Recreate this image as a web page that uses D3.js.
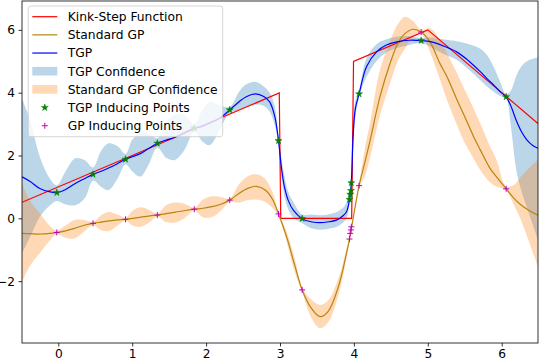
<!DOCTYPE html>
<html>
<head>
<meta charset="utf-8">
<script src="https://cdn.jsdelivr.net/npm/d3@7"></script>
<style>
  html, body { margin: 0; padding: 0; background: #fff; }
  svg text { font-family: "DejaVu Sans", sans-serif; }
</style>
</head>
<body>
<div id="chart"></div>
<script>
// kink-step ground truth (sampled, so the steps lean a little)
var stepX = [-0.49, 2.99, 3.01, 3.97, 3.995, 5.0, 6.49];
var stepY = [0.51, 3.99, 0.0, 0.0, 4.995, 6.0, 3.02];

// TGP posterior mean and confidence band
var tgpX = [-0.49, -0.38, -0.25, -0.11, -0.02, 0.10, 0.23, 0.36, 0.47, 0.58,
            0.68, 0.80, 0.91, 1.00, 1.11, 1.22, 1.34, 1.47, 1.58, 1.70,
            1.84, 1.95, 2.05, 2.18, 2.32, 2.45, 2.55, 2.67, 2.78, 2.86,
            2.93, 2.98, 3.02, 3.06, 3.11, 3.18, 3.30, 3.42, 3.54, 3.66,
            3.77, 3.86, 3.90, 3.94, 3.965, 3.99, 4.02, 4.07, 4.17, 4.31,
            4.44, 4.58, 4.75, 4.91, 5.05, 5.20, 5.39, 5.55, 5.71, 5.80,
            5.89, 5.97, 6.06, 6.12, 6.20, 6.27, 6.34, 6.42, 6.49];
var tgpMean = [1.32, 1.17, 0.95, 0.84, 0.82, 0.92, 1.11, 1.27, 1.40, 1.50,
               1.60, 1.74, 1.88, 1.96, 2.06, 2.22, 2.39, 2.50, 2.58, 2.72,
               2.87, 2.93, 3.03, 3.18, 3.45, 3.72, 3.88, 3.96, 3.88, 3.71,
               3.24, 2.47, 1.60, 1.00, 0.58, 0.26, -0.01, -0.11, -0.14, -0.11,
               -0.05, 0.10, 0.21, 0.58, 1.15, 2.65, 3.50, 3.96, 4.83, 5.31,
               5.52, 5.62, 5.67, 5.66, 5.62, 5.50, 5.30, 5.02, 4.67, 4.45,
               4.25, 4.05, 3.87, 3.60, 3.10, 2.75, 2.50, 2.32, 2.23];
var tgpLo = [-1.11, -0.59, 0.05, 0.42, 0.55, 0.44, 0.42, 0.65, 1.20, 1.00,
             0.90, 1.25, 1.72, 1.50, 1.33, 1.70, 2.25, 1.91, 1.86, 2.15,
             2.75, 2.45, 2.33, 2.80, 3.35, 3.45, 3.55, 3.62, 3.58, 3.40,
             2.95, 2.35, 1.30, 0.70, 0.30, 0.02, -0.15, -0.32, -0.36, -0.33,
             -0.27, -0.12, 0.00, 0.45, 1.00, 2.30, 3.20, 3.85, 4.50, 5.02,
             5.28, 5.42, 5.52, 5.58, 5.44, 5.25, 5.05, 4.75, 4.40, 4.20,
             4.03, 3.90, 3.80, 3.00, 1.50, 0.85, 0.35, -0.20, -0.69];
var tgpHi = [3.80, 3.13, 1.96, 1.25, 1.05, 1.50, 1.91, 1.85, 1.62, 2.15,
             2.39, 2.30, 2.05, 2.50, 2.72, 2.70, 2.55, 3.10, 3.30, 3.30,
             3.00, 3.45, 3.72, 3.60, 3.55, 4.05, 4.28, 4.35, 4.20, 4.00,
             3.55, 2.60, 1.90, 1.35, 0.85, 0.52, 0.12, 0.12, 0.10, 0.13,
             0.20, 0.35, 0.50, 0.72, 1.30, 3.00, 3.75, 4.08, 5.10, 5.55,
             5.70, 5.78, 5.80, 5.74, 5.76, 5.70, 5.64, 5.55, 5.40, 5.20,
             4.83, 4.40, 3.95, 4.05, 4.55, 4.85, 5.00, 5.08, 5.12];

// standard GP mean and confidence band
var gpX = [-0.49, -0.38, -0.25, -0.11, -0.02, 0.10, 0.22, 0.35, 0.47, 0.58,
           0.69, 0.80, 0.91, 1.01, 1.12, 1.24, 1.34, 1.46, 1.59, 1.72,
           1.84, 1.96, 2.08, 2.20, 2.32, 2.45, 2.57, 2.68, 2.80, 2.90,
           2.98, 3.09, 3.20, 3.30, 3.42, 3.54, 3.65, 3.79, 3.90, 3.94,
           3.97, 4.07, 4.15, 4.22, 4.35, 4.49, 4.60, 4.69, 4.80, 4.91,
           5.03, 5.16, 5.26, 5.39, 5.48, 5.62, 5.71, 5.84, 5.93, 6.06,
           6.16, 6.25, 6.37, 6.49];
var gpMean = [-0.48, -0.49, -0.50, -0.48, -0.45, -0.40, -0.32, -0.22, -0.16, -0.12,
              -0.08, -0.05, -0.03, 0.00, 0.04, 0.08, 0.105, 0.15, 0.20, 0.25,
              0.29, 0.32, 0.37, 0.45, 0.58, 0.80, 0.96, 1.02, 0.90, 0.60,
              0.14, -0.59, -1.50, -2.28, -2.85, -3.13, -2.97, -2.18, -1.11, -0.66,
              -0.27, 1.04, 1.80, 2.49, 3.85, 4.94, 5.60, 5.88, 6.02, 5.93,
              5.62, 4.95, 4.51, 3.80, 3.34, 2.60, 2.18, 1.60, 1.32, 0.94,
              0.65, 0.45, 0.25, 0.10];
var gpLo = [-2.02, -1.50, -1.11, -0.70, -0.51, -0.62, -0.64, -0.42, -0.21, -0.38,
            -0.40, -0.24, -0.08, -0.24, -0.27, -0.12, 0.06, -0.12, -0.13, 0.03,
            0.24, 0.03, 0.04, 0.24, 0.53, 0.50, 0.58, 0.60, 0.52, 0.33,
            0.08, -0.75, -1.72, -2.35, -3.15, -3.50, -3.32, -2.45, -1.26, -0.70,
            -0.31, 0.98, 1.35, 1.95, 3.25, 4.30, 5.05, 5.40, 5.78, 5.86,
            5.30, 4.45, 3.77, 3.00, 2.49, 1.90, 1.54, 1.15, 1.01, 0.88,
            0.45, 0.00, -0.75, -1.54];
var gpHi = [1.10, 0.55, 0.16, -0.25, -0.39, -0.22, -0.05, -0.05, -0.11, 0.10,
            0.20, 0.12, 0.02, 0.25, 0.35, 0.26, 0.15, 0.42, 0.50, 0.45,
            0.34, 0.60, 0.70, 0.68, 0.63, 1.10, 1.35, 1.40, 1.25, 0.82,
            0.20, -0.43, -1.28, -2.21, -2.58, -2.76, -2.62, -1.92, -0.97, -0.62,
            -0.23, 1.10, 2.25, 3.05, 4.70, 5.65, 6.20, 6.42, 6.28, 6.00,
            6.05, 5.70, 5.25, 4.65, 4.19, 3.50, 3.02, 2.30, 1.86, 1.02,
            1.05, 1.30, 1.60, 1.86];

// inducing points (shared inputs)
var indX = [-0.02, 0.47, 0.91, 1.34, 1.84, 2.32, 2.98, 3.30, 3.94, 3.95, 3.96, 3.965, 4.07, 4.91, 6.06];
var tgpIndY = [0.82, 1.40, 1.88, 2.39, 2.87, 3.45, 2.47, -0.01, 0.60, 0.76, 0.88, 1.13, 3.96, 5.66, 3.87];
var gpIndY = [-0.45, -0.16, -0.03, 0.105, 0.29, 0.58, 0.14, -2.28, -0.66, -0.48, -0.37, -0.27, 1.04, 5.93, 0.94];

var xTicks = [0, 1, 2, 3, 4, 5, 6];
var yTicks = [-2, 0, 2, 4, 6];
var legendLabels = ["Kink-Step Function", "Standard GP", "TGP", "TGP Confidence",
                    "Standard GP Confidence", "TGP Inducing Points", "GP Inducing Points"];

var W = 540, H = 359;
var L = 22, R = 538, T = 1, B = 343;

var svg = d3.select("#chart").append("svg")
    .attr("width", W).attr("height", H);

var x = d3.scaleLinear().domain([-0.491, 6.491]).range([L, R]);
var y = d3.scaleLinear().domain([-3.97, 6.92]).range([B, T]);

svg.append("clipPath").attr("id", "clip")
  .append("rect").attr("x", L).attr("y", T).attr("width", R - L).attr("height", B - T);

var plot = svg.append("g").attr("clip-path", "url(#clip)");

var smooth = d3.curveCatmullRom.alpha(0.5);

function band(xs, lo, hi) {
    return d3.area()
        .x(function (d, i) { return x(xs[i]); })
        .y0(function (d, i) { return y(lo[i]); })
        .y1(function (d, i) { return y(hi[i]); })
        .curve(smooth)(xs);
}
function line(xs, ys, curve) {
    return d3.line()
        .x(function (d, i) { return x(xs[i]); })
        .y(function (d, i) { return y(ys[i]); })
        .curve(curve)(xs);
}

var tgpFill = "#1f77b4", gpFill = "#ff7f0e";

plot.append("path").attr("d", band(tgpX, tgpLo, tgpHi))
    .attr("fill", tgpFill).attr("fill-opacity", 0.3);
plot.append("path").attr("d", band(gpX, gpLo, gpHi))
    .attr("fill", gpFill).attr("fill-opacity", 0.3);

plot.append("path").attr("d", line(stepX, stepY, d3.curveLinear))
    .attr("fill", "none").attr("stroke", "#ff0000").attr("stroke-width", 1.2);
plot.append("path").attr("d", line(gpX, gpMean, smooth))
    .attr("fill", "none").attr("stroke", "#b8860b").attr("stroke-width", 1.2);
plot.append("path").attr("d", line(tgpX, tgpMean, smooth))
    .attr("fill", "none").attr("stroke", "#0000ff").attr("stroke-width", 1.2);

var star = d3.symbol().type(d3.symbolStar).size(15);
function plus(g, cx, cy) {
    g.append("path")
        .attr("d", "M" + (cx - 3) + "," + cy + "H" + (cx + 3) + "M" + cx + "," + (cy - 3) + "V" + (cy + 3))
        .attr("stroke", "#bf00bf").attr("stroke-width", 1).attr("fill", "none");
}

indX.forEach(function (v, i) {
    plot.append("path").attr("d", star())
        .attr("transform", "translate(" + x(v) + "," + y(tgpIndY[i]) + ")")
        .attr("fill", "#008000").attr("stroke", "#008000").attr("stroke-width", 0.5);
});
indX.forEach(function (v, i) {
    plus(plot, x(v), y(gpIndY[i]));
});

// axes
var fmt = function (d) { return d < 0 ? "\u2212" + Math.abs(d) : String(d); };
var gx = svg.append("g").attr("transform", "translate(0," + B + ")")
    .call(d3.axisBottom(x).tickValues(xTicks).tickFormat(fmt).tickSize(3.5).tickPadding(2.6).tickSizeOuter(0));
var gy = svg.append("g").attr("transform", "translate(" + L + ",0)")
    .call(d3.axisLeft(y).tickValues(yTicks).tickFormat(fmt).tickSize(3.5).tickPadding(3.5).tickSizeOuter(0));
[gx, gy].forEach(function (g) {
    g.select(".domain").remove();
    g.selectAll(".tick line").attr("stroke", "#000").attr("stroke-width", 0.8);
    g.selectAll(".tick text").attr("fill", "#000").style("font-size", "12.2px")
        .style("font-family", "DejaVu Sans, sans-serif");
});

svg.append("rect").attr("x", L).attr("y", T).attr("width", R - L).attr("height", B - T)
    .attr("fill", "none").attr("stroke", "#000").attr("stroke-width", 0.8);

// legend
var lg = svg.append("g");
lg.append("rect").attr("x", 28.3).attr("y", 6).attr("width", 194.4).attr("height", 130.7)
    .attr("rx", 2.5).attr("fill", "#fff").attr("fill-opacity", 0.8)
    .attr("stroke", "#cccccc").attr("stroke-width", 0.8);

var rowY = d3.range(7).map(function (i) { return 16.7 + i * 18.17; });
var hx0 = 32.3, hx1 = 57.3, hxm = 44.8;
var lineColors = ["#ff0000", "#b8860b", "#0000ff"];
lineColors.forEach(function (c, i) {
    lg.append("line").attr("x1", hx0).attr("x2", hx1).attr("y1", rowY[i]).attr("y2", rowY[i])
        .attr("stroke", c).attr("stroke-width", 1.2);
});
[tgpFill, gpFill].forEach(function (c, i) {
    lg.append("rect").attr("x", hx0).attr("y", rowY[3 + i] - 4.3).attr("width", hx1 - hx0).attr("height", 8.6)
        .attr("fill", c).attr("fill-opacity", 0.3);
});
lg.append("path").attr("d", star())
    .attr("transform", "translate(" + hxm + "," + rowY[5] + ")")
    .attr("fill", "#008000").attr("stroke", "#008000").attr("stroke-width", 0.5);
plus(lg, hxm, rowY[6]);

legendLabels.forEach(function (t, i) {
    lg.append("text").attr("x", 67.7).attr("y", rowY[i] + 4.4)
        .style("font-size", "12.3px").attr("fill", "#000").text(t);
});
</script>
</body>
</html>
